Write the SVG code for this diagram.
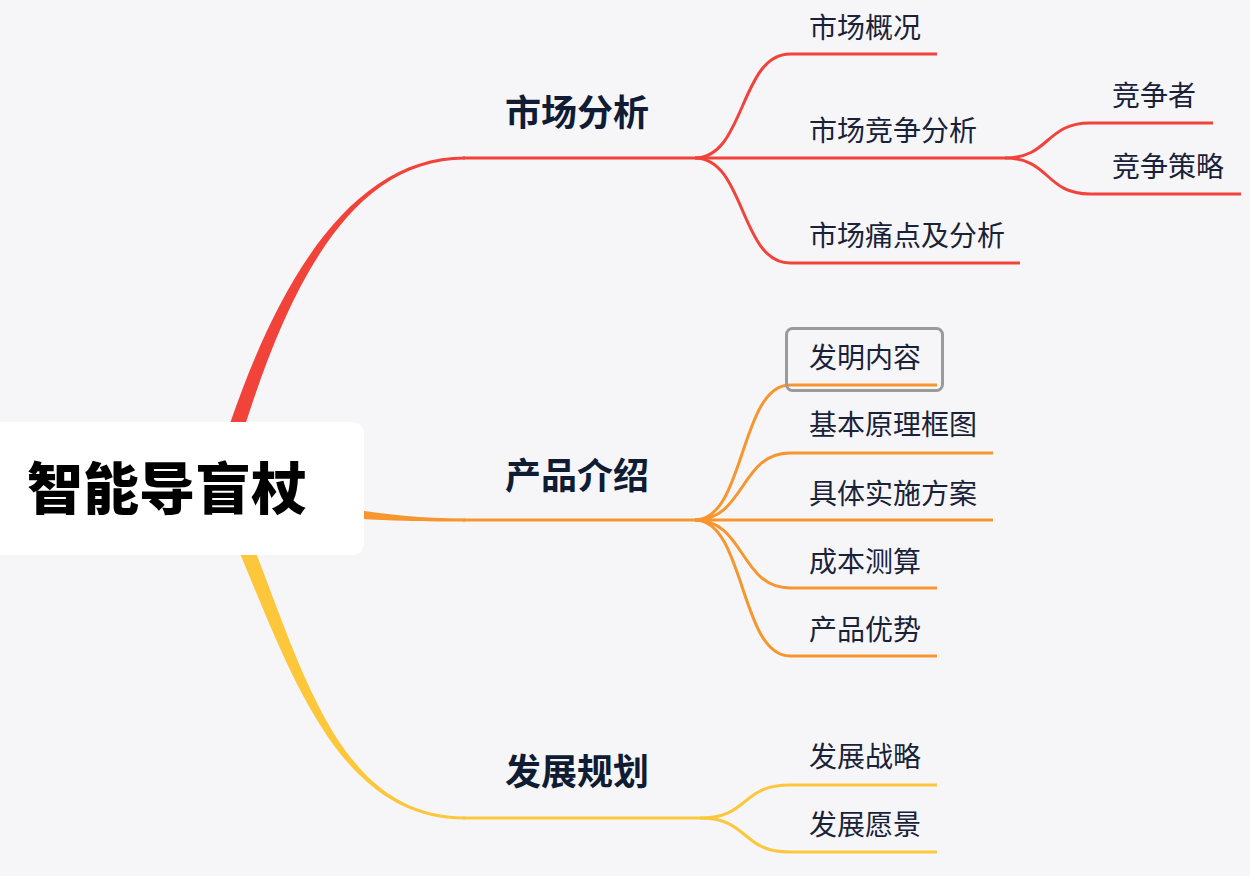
<svg xmlns="http://www.w3.org/2000/svg" width="1250" height="876" viewBox="0 0 1250 876">
<style>
.bg{fill:#f6f6f9}
.c{fill:none;stroke-width:3;stroke-linecap:butt}
.r{stroke:#f1433a}.o{stroke:#f7952f}.y{stroke:#fdc73c}
.t{font-family:"Noto Sans CJK SC","Noto Sans",sans-serif;font-size:28px;fill:#1a2238}
.m{font-family:"Noto Sans CJK SC","Noto Sans",sans-serif;font-size:36px;font-weight:700;fill:#0f1c33}
.root{font-family:"Noto Sans CJK SC","Noto Sans",sans-serif;font-size:56px;font-weight:900;fill:#000}
</style>
<rect class="bg" x="0" y="0" width="1250" height="876"/>
<g id="connectors">
  <path fill="#f1433a" d="M210.3,486 C256.3,328 332,156.5 465,156.5 L465,159.5 C332,159.5 270.7,332 225.7,490 Z"/>
  <path fill="#f7952f" d="M219.6,480.2 C321.6,504.2 380,518.5 465,518.5 L465,521.5 C380,521.5 318.4,519.8 216.4,495.8 Z"/>
  <path fill="#fdc73c" d="M227.6,485.5 C295.6,630 322,816.5 465,816.5 L465,819.5 C322,819.5 280.4,635 212.4,490.5 Z"/>
  <path class="c r" d="M463,158 H695"/>
  <path class="c r" d="M695,158 C745,158 740,54 790,54 H937"/>
  <path class="c r" d="M695,158 H1005"/>
  <path class="c r" d="M695,158 C745,158 740,263 790,263 H1020"/>
  <path class="c r" d="M1005,158 C1050,158 1045,123 1090,123 H1213"/>
  <path class="c r" d="M1005,158 C1050,158 1045,194 1090,194 H1241"/>
  <path class="c o" d="M463,520 H695"/>
  <path class="c o" d="M695,520 C745,520 740,385 790,385 H937"/>
  <path class="c o" d="M695,520 C745,520 740,453 790,453 H993"/>
  <path class="c o" d="M695,520 H993"/>
  <path class="c o" d="M695,520 C745,520 740,588 790,588 H937"/>
  <path class="c o" d="M695,520 C745,520 740,656 790,656 H937"/>
  <path class="c y" d="M463,818 H700"/>
  <path class="c y" d="M700,818 C750,818 740,785 790,785 H937"/>
  <path class="c y" d="M700,818 C750,818 740,852 790,852 H937"/>
</g>
<g id="root">
  <rect x="-30" y="422" width="394" height="133" rx="12" fill="#ffffff"/>
  <text class="root" x="27" y="509">智能导盲杖</text>
</g>
<g id="n-market"><text class="m" x="505" y="126">市场分析</text></g>
<g id="n-product"><text class="m" x="505" y="489">产品介绍</text></g>
<g id="n-plan"><text class="m" x="505" y="785">发展规划</text></g>
<g id="n-m1"><text class="t" x="809" y="38">市场概况</text></g>
<g id="n-m2"><text class="t" x="809" y="141">市场竞争分析</text></g>
<g id="n-m21"><text class="t" x="1112" y="106">竞争者</text></g>
<g id="n-m22"><text class="t" x="1112" y="177">竞争策略</text></g>
<g id="n-m3"><text class="t" x="809" y="246">市场痛点及分析</text></g>
<g id="n-p1">
  <text class="t" x="809" y="368">发明内容</text>
  <rect x="786.5" y="328.5" width="156" height="62" rx="6" fill="none" stroke="#9b9b9b" stroke-width="3"/>
</g>
<g id="n-p2"><text class="t" x="809" y="435">基本原理框图</text></g>
<g id="n-p3"><text class="t" x="809" y="504">具体实施方案</text></g>
<g id="n-p4"><text class="t" x="809" y="572">成本测算</text></g>
<g id="n-p5"><text class="t" x="809" y="640">产品优势</text></g>
<g id="n-d1"><text class="t" x="809" y="767">发展战略</text></g>
<g id="n-d2"><text class="t" x="809" y="835">发展愿景</text></g>
</svg>
